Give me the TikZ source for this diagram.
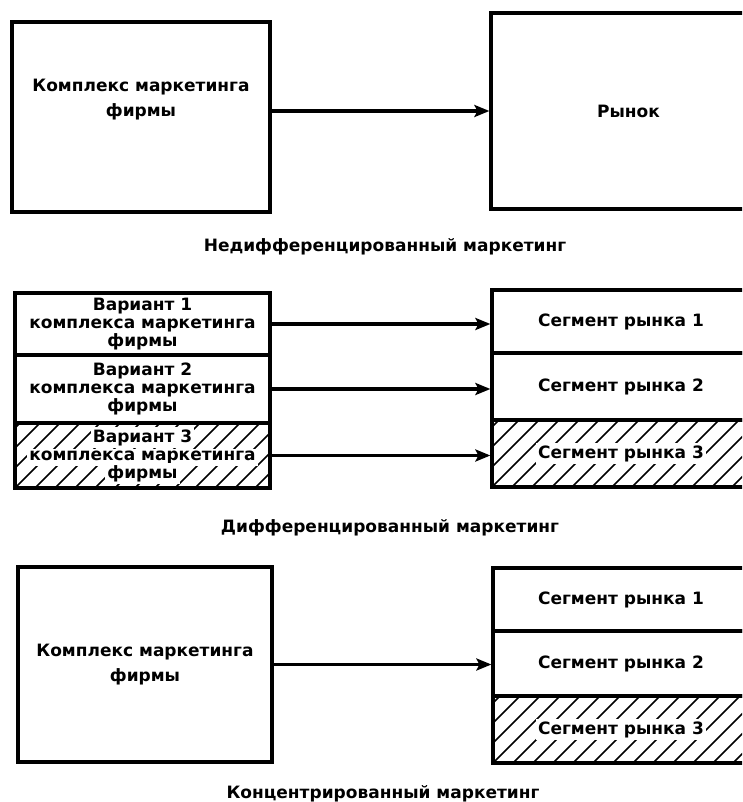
\documentclass[tikz,border=0pt]{standalone}
\usepackage{fontspec}
\setmainfont{DejaVu Sans}
\usetikzlibrary{arrows.meta}
\newcommand{\wl}[1]{{\setlength{\fboxsep}{2pt}\colorbox{white}{#1}}}

\begin{document}
\begin{tikzpicture}[x=1pt,y=-1pt,
  box/.style={draw,line width=3.2pt,inner sep=0pt,align=center,
    font={\bfseries\fontsize{17}{18}\selectfont\setlength{\lineskiplimit}{-20pt}}},
  hatch/.style={path picture={
    \foreach \k in {-100,-80,...,280}
      \draw[line width=1.6pt]
        ([xshift=\k pt]path picture bounding box.south west) -- ++(100pt,100pt);}},
  txt/.style={align=center,font=\bfseries\fontsize{17}{25}\selectfont},
  captext/.style={font=\bfseries\fontsize{17}{18}\selectfont},
  link/.style={line width=3.2pt,-{Stealth[length=15pt,width=12pt,inset=3pt]}}]
\useasboundingbox (0,0) rectangle (742,802);
\clip (0,0) rectangle (742,802);
% undifferentiated
\node[box,minimum width=258,minimum height=190] (mix) at (141,117) {};
\node[txt] (mixtext) at (141,100) {Комплекс маркетинга\\фирмы};
\node[box,minimum width=275,minimum height=196] (mkt) at (628.5,111) {Рынок};
\draw[link] (mkt.west -| mix.east) -- (mkt.west);
\node[captext] (cap1) at (385,247) {Недифференцированный маркетинг};
% differentiated
\node[box,minimum width=255,minimum height=62] (var1) at (142.5,324) {Вариант 1\\комплекса маркетинга\\фирмы};
\node[box,minimum width=255,minimum height=68] (var2) at (142.5,389) {Вариант 2\\комплекса маркетинга\\фирмы};
\node[box,hatch,minimum width=255,minimum height=65] (var3) at (142.5,455.5) {\wl{Вариант 3}\\\wl{комплекса маркетинга}\\\wl{фирмы}};
\node[box,minimum width=258,minimum height=63] (seg1) at (621,321.5) {Сегмент рынка 1};
\node[box,minimum width=258,minimum height=67] (seg2) at (621,386.5) {Сегмент рынка 2};
\node[box,hatch,minimum width=258,minimum height=67] (seg3) at (621,453.5) {\wl{Сегмент рынка 3}};
\foreach \i in {1,2,3}{\draw[link] (var\i.east) -- (var\i.east -| seg\i.west);}
\node[captext] (cap2) at (390,528) {Дифференцированный маркетинг};
% concentrated
\node[box,minimum width=254,minimum height=195] (cmix) at (145,664.5) {Комплекс маркетинга\\[7pt]фирмы};
\node[box,minimum width=256,minimum height=63] (cseg1) at (621,599.5) {Сегмент рынка 1};
\node[box,minimum width=256,minimum height=65] (cseg2) at (621,663.5) {Сегмент рынка 2};
\node[box,hatch,minimum width=256,minimum height=67] (cseg3) at (621,729.5) {\wl{Сегмент рынка 3}};
\draw[link] (cmix.east) -- (cmix.east -| cseg2.west);
\node[captext] (cap3) at (383,794) {Концентрированный маркетинг};
\end{tikzpicture}
\end{document}
